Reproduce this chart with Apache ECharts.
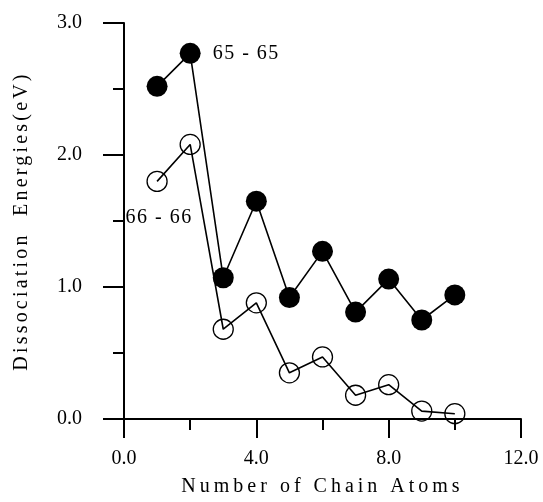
<!DOCTYPE html>
<html>
<head>
<meta charset="utf-8">
<script src="https://cdn.jsdelivr.net/npm/echarts@6/dist/echarts.min.js"></script>
<style>
  html, body { margin: 0; padding: 0; background: #fff; }
  #chart { width: 543px; height: 502px; }
</style>
</head>
<body>
<div id="chart"></div>
<script>
// number of chain atoms
var atoms = [1, 2, 3, 4, 5, 6, 7, 8, 9, 10];
// 65 - 65 (filled circles)
var energy6565 = [2.52, 2.77, 1.07, 1.65, 0.92, 1.27, 0.81, 1.06, 0.75, 0.94];
// 66 - 66 (open circles)
var energy6666 = [1.80, 2.08, 0.68, 0.88, 0.35, 0.47, 0.18, 0.26, 0.06, 0.04];

var xName = 'Number of Chain Atoms';
var yName = 'Dissociation  Energies(eV)';
var font = '"Liberation Serif", serif';

// the axis titles and curve labels are spaced out in the original,
// every other text gets no extra spacing
var spacing = {};
spacing[xName] = '4px';
spacing[yName] = '3.2px';
spacing['65 - 65'] = '1.5px';
spacing['66 - 66'] = '1.5px';
var origFill = CanvasRenderingContext2D.prototype.fillText;
CanvasRenderingContext2D.prototype.fillText = function (text, x, y, w) {
    if ('letterSpacing' in this) this.letterSpacing = spacing[text] || '0px';
    var r = w === undefined ? origFill.call(this, text, x, y) : origFill.call(this, text, x, y, w);
    if ('letterSpacing' in this) this.letterSpacing = '0px';
    return r;
};

function pairs(xs, ys) {
    var out = [];
    for (var i = 0; i < xs.length; i++) out.push([xs[i], ys[i]]);
    return out;
}
var data65 = pairs(atoms, energy6565);
var data66 = pairs(atoms, energy6666);
// curve labels hang off one point of each curve
data65[1] = { value: data65[1], label: { show: true, position: 'right', distance: 12, formatter: '65 - 65' } };
data66[0] = { value: data66[0], label: { show: true, position: 'bottom', distance: 16, offset: [2, 0], formatter: '66 - 66' } };

var black = { color: '#000', width: 2 };
var minor = { show: true, splitNumber: 2, length: 11, lineStyle: { color: '#000', width: 2 } };
function fmt(v) { return v.toFixed(1); }

var myChart = echarts.init(document.getElementById('chart'), null, { renderer: 'canvas' });
var option = {
    animation: false,
    backgroundColor: '#fff',
    grid: { left: 124, right: 22, top: 23, bottom: 81 },
    xAxis: [{
        type: 'value', min: 0, max: 12, interval: 4,
        name: xName, nameLocation: 'middle', nameGap: 58,
        nameTextStyle: { fontFamily: font, fontSize: 20, color: '#000' },
        axisLine: { show: true, lineStyle: black },
        axisTick: { show: true, length: 19, lineStyle: black },
        minorTick: minor,
        splitLine: { show: false },
        axisLabel: { margin: 30, color: '#000', fontFamily: font, fontSize: 20, formatter: fmt }
    }, {
        // short ticks every 2 (labels kept but invisible so the ticks stay)
        type: 'value', position: 'bottom', min: 0, max: 12, interval: 2,
        axisLine: { show: false },
        axisTick: { show: true, length: 11, lineStyle: black },
        splitLine: { show: false },
        axisLabel: { show: true, color: 'rgba(0,0,0,0)', fontSize: 8, margin: 30 }
    }],
    yAxis: [{
        type: 'value', min: 0, max: 3, interval: 1,
        name: yName, nameLocation: 'middle', nameGap: 92,
        nameTextStyle: { fontFamily: font, fontSize: 20, color: '#000' },
        axisLine: { show: true, lineStyle: black },
        axisTick: { show: true, length: 21, lineStyle: black },
        minorTick: minor,
        splitLine: { show: false },
        axisLabel: { margin: 42, color: '#000', fontFamily: font, fontSize: 20, formatter: fmt }
    }, {
        // short ticks every 0.5
        type: 'value', position: 'left', min: 0, max: 3, interval: 0.5,
        axisLine: { show: false },
        axisTick: { show: true, length: 11, lineStyle: black },
        splitLine: { show: false },
        axisLabel: { show: true, color: 'rgba(0,0,0,0)', fontSize: 8, margin: 42 }
    }],
    series: [{
        type: 'line', data: data65, symbol: 'circle', symbolSize: 21,
        lineStyle: { color: '#000', width: 1.6 },
        itemStyle: { color: '#000' },
        label: { color: '#000', fontFamily: font, fontSize: 20 }
    }, {
        type: 'line', data: data66, symbol: 'circle', symbolSize: 20,
        lineStyle: { color: '#000', width: 1.6 },
        itemStyle: { color: 'rgba(0,0,0,0)', borderColor: '#000', borderWidth: 1.3 },
        label: { color: '#000', fontFamily: font, fontSize: 20 }
    }]
};
myChart.setOption(option);
</script>
</body>
</html>
